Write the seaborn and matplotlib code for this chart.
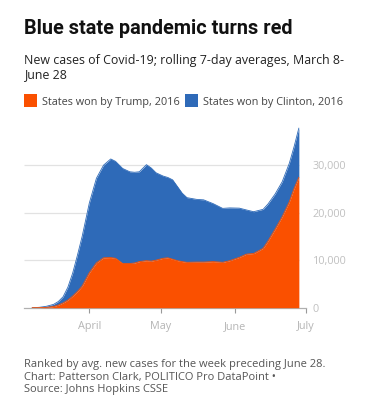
import matplotlib

matplotlib.use("Agg")
import matplotlib.dates as mdates
import matplotlib.pyplot as plt
import numpy as np
import pandas as pd
import seaborn as sns
from matplotlib.patches import Rectangle
from matplotlib.ticker import FuncFormatter

sns.set_theme(style="white")
plt.rcParams["font.family"] = ["Open Sans", "DejaVu Sans"]

W, H = 367, 407
DPI = 100

ORANGE = "#fa5000"
BLUE = "#2e6ab8"

dates = [
    "2020-03-08", "2020-03-11", "2020-03-14", "2020-03-17", "2020-03-19",
    "2020-03-21", "2020-03-23", "2020-03-25", "2020-03-27", "2020-03-29",
    "2020-04-01", "2020-04-04", "2020-04-07", "2020-04-10", "2020-04-12",
    "2020-04-15", "2020-04-18", "2020-04-20", "2020-04-22", "2020-04-25",
    "2020-04-27", "2020-04-29", "2020-05-02", "2020-05-04", "2020-05-06",
    "2020-05-08", "2020-05-10", "2020-05-12", "2020-05-16", "2020-05-19",
    "2020-05-23", "2020-05-27", "2020-05-30", "2020-06-03", "2020-06-06",
    "2020-06-09", "2020-06-13", "2020-06-15", "2020-06-18", "2020-06-21",
    "2020-06-24", "2020-06-26", "2020-06-28",
]
trump_states = [
    0, 10, 60, 250, 550,
    1000, 1600, 2450, 3400, 4550,
    7350, 9450, 10500, 10550, 10400,
    9300, 9300, 9400, 9700, 9900,
    9800, 10000, 10400, 10500, 10200,
    9900, 9700, 9550, 9600, 9600,
    9700, 9550, 9900, 10600, 11270,
    11400, 12500, 14000, 16500, 19150,
    22300, 25100, 27450,
]
clinton_states = [
    0, 70, 240, 450, 750,
    1300, 2700, 4800, 7600, 10450,
    14650, 17800, 19500, 20750, 20400,
    20000, 19300, 19100, 18900, 20200,
    19600, 18400, 17300, 16900, 16700,
    15600, 14400, 13610, 13200, 13100,
    12200, 11350, 11100, 10350, 9300,
    8800, 8200, 7800, 7400, 7350,
    8100, 8800, 10350,
]
series_labels = ["States won by Trump, 2016", "States won by Clinton, 2016"]
y_ticks = [0, 10000, 20000, 30000]
month_ticks = ["2020-04-01", "2020-05-01", "2020-06-01", "2020-07-01"]

df = pd.DataFrame(
    {"date": pd.to_datetime(dates), "trump": trump_states, "clinton": clinton_states}
)
df["total"] = df["trump"] + df["clinton"]

fig = plt.figure(figsize=(W / DPI, H / DPI), dpi=DPI)
fig.patch.set_facecolor("white")


def px(x, y):
    return x / W, 1 - y / H


# axes: x 24..306 px, y 120..307.7 px
ax = fig.add_axes([24 / W, 1 - 307.7 / H, (306 - 24) / W, (307.7 - 120) / H])

x0 = pd.Timestamp("2020-03-04 14:00")
x1 = pd.Timestamp("2020-07-01")
ax.set_xlim(x0, x1)
ax.set_ylim(0, 39500)

for v in y_ticks[1:]:
    ax.hlines(v, x0, df["date"].iloc[-1], color="#e2e2e2", lw=0.9, zorder=0)

ax.fill_between(df["date"], df["trump"], df["total"], color=BLUE, lw=0, zorder=2)
ax.fill_between(df["date"], 0, df["trump"], color=ORANGE, lw=0, zorder=3)
sns.lineplot(data=df, x="date", y="total", ax=ax, color=BLUE, lw=0.6, zorder=2)
sns.lineplot(data=df, x="date", y="trump", ax=ax, color=ORANGE, lw=0.6, zorder=3)

for s in ["top", "left", "right"]:
    ax.spines[s].set_visible(False)
ax.spines["bottom"].set_color("#b0b0b0")
ax.spines["bottom"].set_linewidth(0.9)

ax.set_xticks(pd.to_datetime(month_ticks))
ax.xaxis.set_major_formatter(mdates.DateFormatter("%B"))
ax.tick_params(axis="x", length=3.5, width=0.8, color="#999999", pad=6,
               labelsize=7.8, labelcolor="#b5b5b5", bottom=True)

ax.yaxis.tick_right()
ax.set_yticks(y_ticks)
ax.yaxis.set_major_formatter(FuncFormatter(lambda v, p: f"{int(v):,}"))
ax.tick_params(axis="y", length=0, pad=5, labelsize=7.8, labelcolor="#c0c0c0")
ax.set_xlabel("")
ax.set_ylabel("")

# title block
fig.text(*px(24, 34.5), "Blue state pandemic turns red", fontsize=14.3,
         fontweight="bold", color="#111111", va="baseline", family="Roboto")
fig.text(*px(24, 54.3),
         "New cases of Covid-19; rolling 7-day averages, March 8-\nJune 28",
         fontsize=8.9, color="#222222", va="top", linespacing=1.1)

# legend row
for (sx, tx), color, label in zip([(24, 41.5), (185, 203)], [ORANGE, BLUE], series_labels):
    fig.patches.append(Rectangle(px(sx, 106.5), 12.5 / W, 12.5 / H,
                                 transform=fig.transFigure, color=color, lw=0))
    fig.text(*px(tx, 104.5), label, fontsize=7.8, color="#444444", va="baseline")

# footnote
notes = [
    "Ranked by avg. new cases for the week preceding June 28.",
    "Chart: Patterson Clark, POLITICO Pro DataPoint \u2022",
    "Source: Johns Hopkins CSSE",
]
fig.text(*px(24, 358.9), "\n".join(notes), fontsize=8.0, color="#555555",
         va="top", linespacing=1.22)

fig.savefig("out.png", dpi=DPI)
